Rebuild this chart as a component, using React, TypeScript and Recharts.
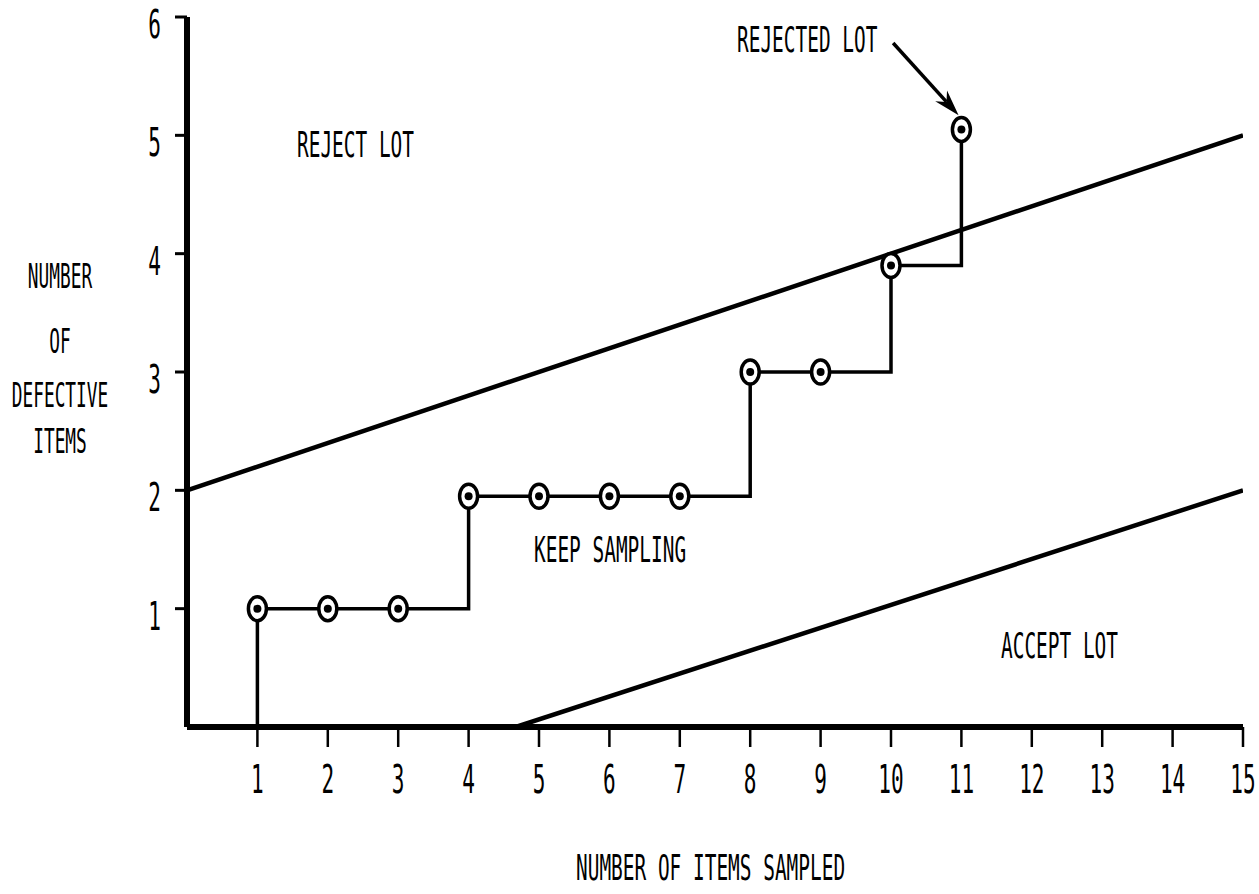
import React from "react";
import {
  ComposedChart,
  Line,
  Scatter,
  XAxis,
  YAxis,
  ReferenceLine,
} from "recharts";

// sequential sampling chart: each circled point is one item inspected
const sampleX = [1, 2, 3, 4, 5, 6, 7, 8, 9, 10, 11];
const defectives = [1, 1, 1, 1.95, 1.95, 1.95, 1.95, 3, 3, 3.9, 5.05];

// decision boundaries
const rejectLine = [
  { x: 0, y: 2 },
  { x: 15, y: 5 },
];
const acceptLine = [
  { x: 4.67, y: 0 },
  { x: 15, y: 2 },
];

const xTicks = [1, 2, 3, 4, 5, 6, 7, 8, 9, 10, 11, 12, 13, 14, 15];
const yTicks = [1, 2, 3, 4, 5, 6];

// arrow pointing at the rejected lot
const arrowFrom = { x: 10.03, y: 5.78 };
const arrowTo = { x: 10.96, y: 5.17 };

// region notes (left x / baseline y in px)
const notes = [
  { text: "REJECT LOT", x: 297, y: 157 },
  { text: "REJECTED LOT", x: 737, y: 52 },
  { text: "KEEP SAMPLING", x: 534, y: 562 },
  { text: "ACCEPT LOT", x: 1001, y: 658 },
  { text: "NUMBER OF ITEMS SAMPLED", x: 576, y: 880 },
];
const yTitleLines = ["NUMBER", "OF", "DEFECTIVE", "ITEMS"];
const yTitleBaselines = [288, 353, 407, 453];

const FONT = "'DejaVu Sans Mono', monospace";
const FS = 36;
const SX = 0.54;

// the step path starts on the x axis under the first sample
const stepData = [{ x: 1, y: 0 }].concat(
  sampleX.map((x, i) => ({ x, y: defectives[i] }))
);
const circleData = sampleX.map((x, i) => ({ x, y: defectives[i] }));

const NarrowText = ({ x, y, anchor, children, size = FS }: any) => (
  <text
    transform={`translate(${x},${y}) scale(${SX},1)`}
    textAnchor={anchor || "start"}
    fontFamily={FONT}
    fontSize={size}
    fill="#000"
  >
    {children}
  </text>
);

const XTick = (props: any) => {
  const { x, payload } = props;
  return (
    <NarrowText x={x} y={793} anchor="middle" size={39}>
      {payload.value}
    </NarrowText>
  );
};

const YTick = (props: any) => {
  const { y, payload } = props;
  return (
    <NarrowText x={161} y={y + 21} anchor="end" size={39}>
      {payload.value}
    </NarrowText>
  );
};

const CircleMark = (props: any) => {
  const { cx, cy } = props;
  return (
    <g>
      <ellipse cx={cx} cy={cy} rx={9} ry={12} fill="#fff" stroke="#000" strokeWidth={3.5} />
      <circle cx={cx} cy={cy} r={4} fill="#000" />
    </g>
  );
};

const Arrow = (props: any) => {
  const { x1, y1, x2, y2 } = props;
  const dx = x2 - x1;
  const dy = y2 - y1;
  const len = Math.sqrt(dx * dx + dy * dy);
  const ux = dx / len;
  const uy = dy / len;
  const bx = x2 - ux * 26;
  const by = y2 - uy * 26;
  const mx = x2 - ux * 18;
  const my = y2 - uy * 18;
  return (
    <g>
      <line x1={x1} y1={y1} x2={mx} y2={my} stroke="#000" strokeWidth={3.5} />
      <polygon
        points={`${x2},${y2} ${bx - uy * 8},${by + ux * 8} ${mx},${my} ${bx + uy * 8},${by - ux * 8}`}
        fill="#000"
      />
    </g>
  );
};

export default function App() {
  return (
    <div
      style={{
        position: "absolute",
        left: 0,
        top: 0,
        width: 1259,
        height: 894,
        background: "#fff",
      }}
    >
      <ComposedChart
        width={1259}
        height={894}
        margin={{ top: 17, right: 16, left: 107, bottom: 107 }}
      >
        <XAxis
          dataKey="x"
          type="number"
          domain={[0, 15]}
          ticks={xTicks}
          allowDataOverflow
          tick={<XTick />}
          tickSize={20}
          tickLine={{ stroke: "#000", strokeWidth: 2.5 }}
          axisLine={{ stroke: "#000", strokeWidth: 6 }}
          height={60}
        />
        <YAxis
          dataKey="y"
          type="number"
          domain={[0, 6]}
          ticks={yTicks}
          allowDataOverflow
          tick={<YTick />}
          tickSize={12}
          tickMargin={12}
          tickLine={{ stroke: "#000", strokeWidth: 3 }}
          axisLine={{ stroke: "#000", strokeWidth: 6 }}
          width={80}
        />
        <Line
          data={rejectLine}
          dataKey="y"
          type="linear"
          stroke="#000"
          strokeWidth={4.5}
          dot={false}
          isAnimationActive={false}
        />
        <Line
          data={acceptLine}
          dataKey="y"
          type="linear"
          stroke="#000"
          strokeWidth={4.5}
          dot={false}
          isAnimationActive={false}
        />
        <Line
          data={stepData}
          dataKey="y"
          type="stepAfter"
          stroke="#000"
          strokeWidth={3.5}
          dot={false}
          isAnimationActive={false}
        />
        <Scatter
          data={circleData}
          dataKey="y"
          shape={<CircleMark />}
          isAnimationActive={false}
        />
        <ReferenceLine
          segment={[arrowFrom, arrowTo]}
          shape={<Arrow />}
          ifOverflow="visible"
        />
      </ComposedChart>

      <svg
        width={1259}
        height={894}
        style={{ position: "absolute", left: 0, top: 0, pointerEvents: "none" }}
      >
        {notes.map((n) => (
          <NarrowText key={n.text} x={n.x} y={n.y}>
            {n.text}
          </NarrowText>
        ))}
        {yTitleLines.map((t, i) => (
          <NarrowText key={t} x={60} y={yTitleBaselines[i]} anchor="middle" size={33}>
            {t}
          </NarrowText>
        ))}
      </svg>
    </div>
  );
}
